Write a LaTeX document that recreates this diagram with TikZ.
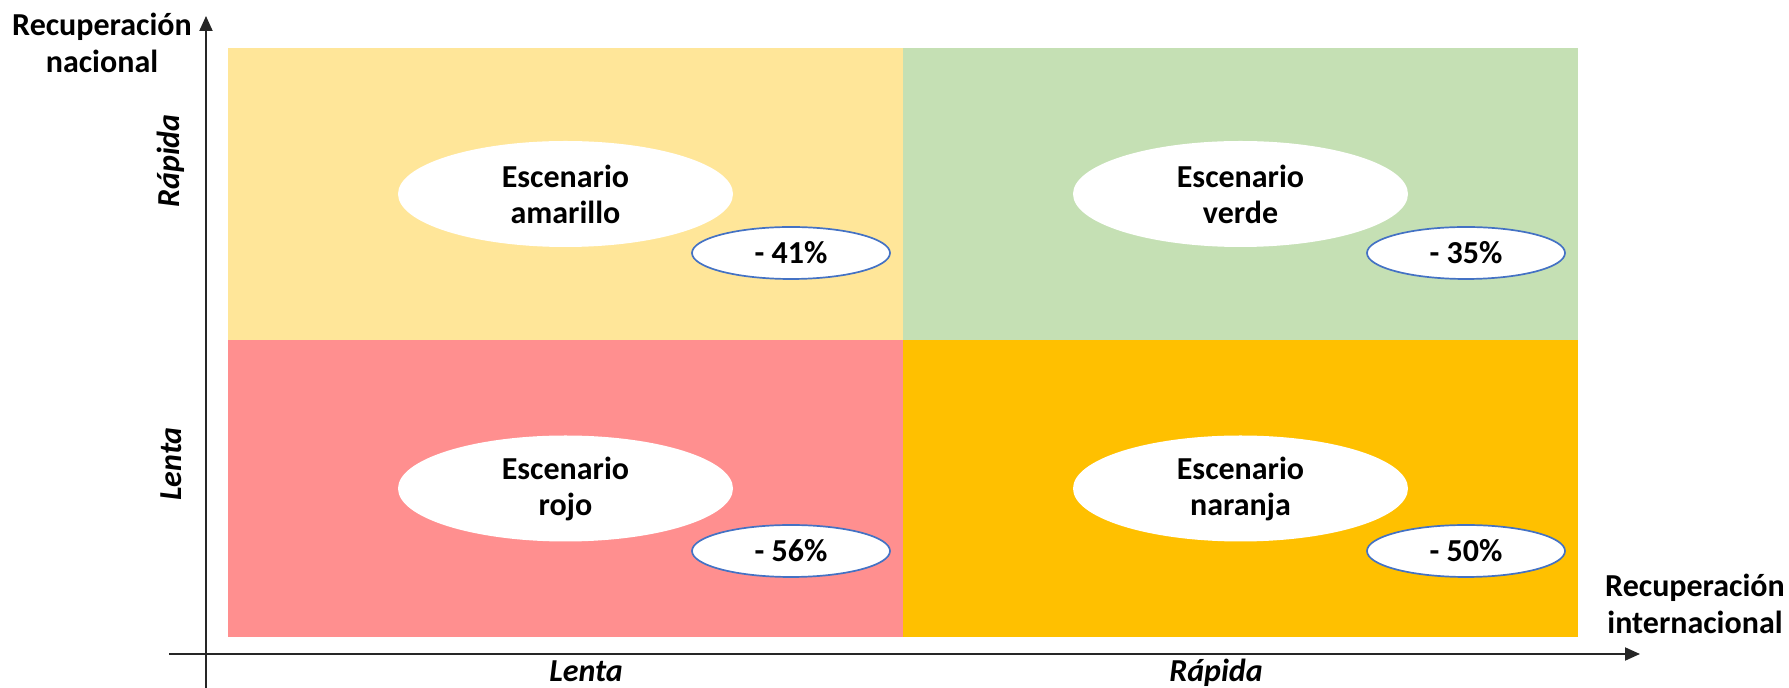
\documentclass[tikz,border=0pt]{standalone}
\usepackage{fontspec}
\setmainfont{Carlito}
\usepackage{tikz}
\usetikzlibrary{shapes.geometric}
\usetikzlibrary{arrows.meta}
\definecolor{qyellow}{HTML}{FFE699}
\definecolor{qgreen}{HTML}{C5E0B4}
\definecolor{qred}{HTML}{FF8F8F}
\definecolor{qorange}{HTML}{FFC000}
\definecolor{dropline}{HTML}{4472C4}
\definecolor{axisgray}{HTML}{262626}
\tikzstyle{quadrant}=[inner sep=0, outer sep=0, minimum width=337.5pt]
\tikzstyle{scenario}=[ellipse, fill=white, inner sep=0, minimum width=167.5pt, minimum height=53pt, align=center]
\tikzstyle{drop}=[ellipse, draw=dropline, line width=0.85pt, fill=white, inner sep=0, minimum width=99pt, minimum height=26pt]
\tikzstyle{axis}=[draw=axisgray, line width=1pt, -{Triangle[length=7.5pt, width=6.5pt]}]
\tikzstyle{axislabel}=[inner sep=0, align=center, font=\fontsize{16}{18.5}\selectfont\bfseries]
\tikzstyle{speedlabel}=[inner sep=0, font=\fontsize{16}{18}\selectfont\bfseries\itshape]
\tikzstyle{quadrants}=[x=0.5pt, y=-0.5pt,
                       % Every text in the picture is bold.
                       every node/.append style={font=\fontsize{16}{18}\selectfont\bfseries}]

\begin{document}
\begin{tikzpicture}[quadrants]
        \useasboundingbox (0, 0) rectangle (1789, 688);
        \node[quadrant, fill=qyellow, minimum height=146pt]   (Q1) at (565.5, 194) {};
        \node[quadrant, fill=qgreen, minimum height=146pt]    (Q2) at (1240.5, 194) {};
        \node[quadrant, fill=qred, minimum height=148.5pt]    (Q3) at (565.5, 488.5) {};
        \node[quadrant, fill=qorange, minimum height=148.5pt] (Q4) at (1240.5, 488.5) {};
        \node[scenario] (S1) at (Q1) {Escenario\\amarillo};
        \node[scenario] (S2) at (Q2) {Escenario\\verde};
        \node[scenario] (S3) at (Q3) {Escenario\\rojo};
        \node[scenario] (S4) at (Q4) {Escenario\\naranja};
        \node[drop] (D1) at ([shift={(225.5, 59)}]Q1.center) {- 41\%};
        \node[drop] (D2) at ([shift={(225.5, 59)}]Q2.center) {- 35\%};
        \node[drop] (D3) at ([shift={(225.5, 62.5)}]Q3.center) {- 56\%};
        \node[drop] (D4) at ([shift={(225.5, 62.5)}]Q4.center) {- 50\%};
        \coordinate (ybottom) at (206, 688);
        \coordinate (ytop) at (206, 16);
        \coordinate (xleft) at (169, 654);
        \coordinate (xright) at (1640, 654);
        \draw[axis] (ybottom) -- (ytop);
        \draw[axis] (xleft) -- (xright);
        \node[axislabel] (ylabel) at (102, 43) {Recuperación\\nacional};
        \node[axislabel] (xlabel) at (1695, 604) {Recuperación\\internacional};
        \node[speedlabel, rotate=90] (yfast) at (171, 161) {Rápida};
        \node[speedlabel, rotate=90] (yslow) at (171, 464) {Lenta};
        \node[speedlabel, anchor=base] (xslow) at (586, 682) {Lenta};
        \node[speedlabel, anchor=base] (xfast) at (1216, 682) {Rápida};
    \end{tikzpicture}
\end{document}
